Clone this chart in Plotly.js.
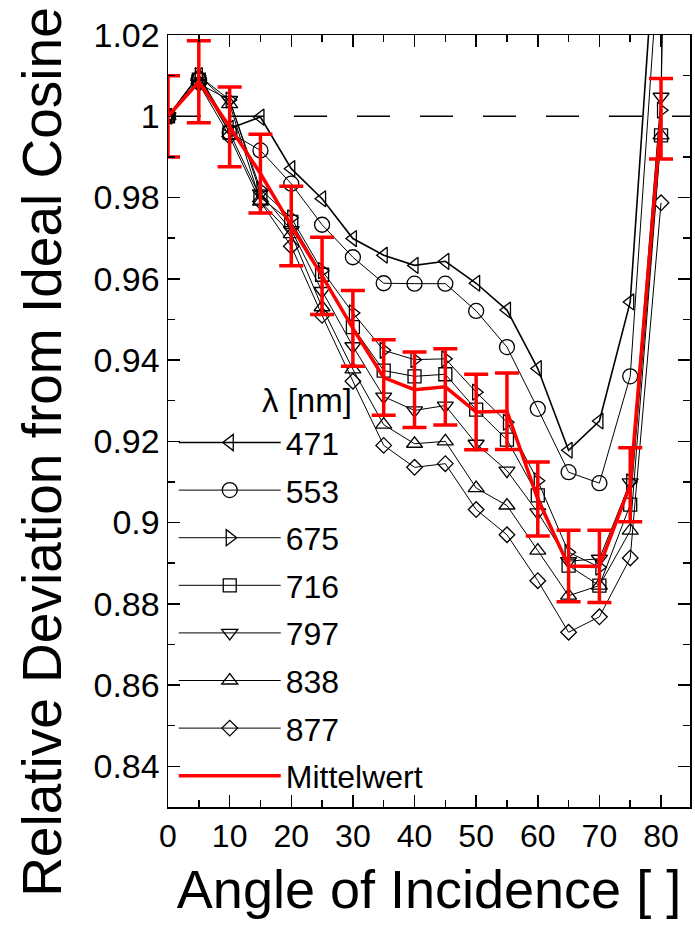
<!DOCTYPE html>
<html>
<head>
<meta charset="utf-8">
<script src="https://cdn.plot.ly/plotly-3.0.1.min.js"></script>
<style>html,body{margin:0;padding:0;background:#fff;}#chart{width:695px;height:930px;}</style>
</head>
<body>
<div id="chart"></div>
<script>
// Angles of incidence (degrees)
const angles = [0, 5, 10, 15, 20, 25, 30, 35, 40, 45, 50, 55, 60, 65, 70, 75, 80];
const anglesExt = [0, 5, 10, 15, 20, 25, 30, 35, 40, 45, 50, 55, 60, 65, 70, 75, 80, 85];

// Wavelength series (relative deviation)
const s471 = [1.000, 1.010, 0.997, 0.9998, 0.9871, 0.9797, 0.9699, 0.9658, 0.9633, 0.9643, 0.9589, 0.9523, 0.9379, 0.9178, 0.9250, 0.9543, 1.065];
const s553 = [1.000, 1.009, 0.996, 0.9916, 0.9834, 0.9733, 0.9653, 0.9589, 0.9588, 0.9588, 0.9521, 0.9432, 0.9280, 0.9124, 0.9097, 0.9360, 1.047];
const s675 = [1.000, 1.010, 1.004, 0.982, 0.975, 0.962, 0.9516, 0.9424, 0.9401, 0.9403, 0.9321, 0.9247, 0.9103, 0.8927, 0.8890, 0.9100, 1.0015, 1.5];
const s716 = [1.000, 1.009, 0.996, 0.980, 0.974, 0.961, 0.9481, 0.9374, 0.9360, 0.9365, 0.9278, 0.9204, 0.9067, 0.8894, 0.8845, 0.9044, 0.9953];
const s797 = [1.000, 1.008, 1.004, 0.981, 0.972, 0.957, 0.9434, 0.9310, 0.9276, 0.9288, 0.9194, 0.9128, 0.9025, 0.8905, 0.8911, 0.9099, 1.0048, 1.5];
const s838 = [1.000, 1.010, 1.003, 0.979, 0.971, 0.953, 0.9377, 0.9241, 0.9194, 0.9200, 0.9085, 0.9042, 0.8931, 0.8820, 0.8845, 0.8980, 0.9953];
const s877 = [1.000, 1.008, 0.995, 0.979, 0.968, 0.951, 0.9348, 0.9190, 0.9136, 0.9145, 0.9032, 0.8970, 0.8857, 0.8730, 0.8768, 0.8913, 0.9787];

// Mean (Mittelwert) and its error
const meanVals = [1.000, 1.0085, 0.9974, 0.9859, 0.9730, 0.9607, 0.9478, 0.9357, 0.9327, 0.9334, 0.9272, 0.9274, 0.9058, 0.8893, 0.8892, 0.9093, 0.9994];
const meanErr = [0.0100, 0.0101, 0.0098, 0.0097, 0.0098, 0.0095, 0.0093, 0.0093, 0.0093, 0.0094, 0.0093, 0.0094, 0.0091, 0.0088, 0.0089, 0.0091, 0.0099];

const seriesNames = ['471', '553', '675', '716', '797', '838', '877'];

// Tick labels
const xTickVals = [0, 10, 20, 30, 40, 50, 60, 70, 80];
const yTickVals = [0.84, 0.86, 0.88, 0.90, 0.92, 0.94, 0.96, 0.98, 1.00, 1.02];
const yTickText = ['0.84', '0.86', '0.88', '0.9', '0.92', '0.94', '0.96', '0.98', '1', '1.02'];

const FONT = 'Liberation Sans, Arial, Helvetica, sans-serif';

function series(name, xs, ys, symbol, size, lw) {
  return {
    x: xs, y: ys, name: name, type: 'scatter', mode: 'lines+markers',
    legendgroup: 'g' + name,
    line: {color: '#000', width: lw},
    marker: {symbol: symbol, size: size, color: '#000', line: {color: '#000', width: 1.3}},
    cliponaxis: true
  };
}

const traces = [
  series(seriesNames[0], angles, s471, 'triangle-left-open', 14, 1.6),
  series(seriesNames[1], angles, s553, 'circle-open', 15, 1.0),
  series(seriesNames[2], anglesExt, s675, 'triangle-right-open', 14, 1.0),
  series(seriesNames[3], angles, s716, 'square-open', 13, 1.0),
  series(seriesNames[4], anglesExt, s797, 'triangle-down-open', 14, 1.0),
  series(seriesNames[5], angles, s838, 'triangle-up-open', 14, 1.0),
  series(seriesNames[6], angles, s877, 'diamond-open', 12, 1.0),
  {
    x: angles, y: meanVals, name: 'Mittelwert', type: 'scatter', mode: 'lines',
    legendgroup: 'gmean',
    line: {color: '#ff0000', width: 3.5},
    error_y: {type: 'data', array: meanErr, visible: true, color: '#ff0000', thickness: 3.5, width: 12}
  }
];

const layout = {
  width: 695, height: 930,
  margin: {l: 168, r: 5, t: 35, b: 123, pad: 0},
  paper_bgcolor: '#fff', plot_bgcolor: '#fff',
  font: {family: FONT, color: '#000', size: 32},
  showlegend: true,
  legend: {
    x: 0.011, y: 0.5075, xanchor: 'left', yanchor: 'top',
    bgcolor: 'rgba(0,0,0,0)', borderwidth: 0,
    font: {family: FONT, size: 32, color: '#000'},
    itemwidth: 102, tracegroupgap: 3, traceorder: 'grouped'
  },
  xaxis: {
    range: [0, 84.7],
    tickmode: 'array', tickvals: xTickVals,
    ticks: 'inside', ticklen: 12, tickwidth: 1.5, tickcolor: '#000',
    minor: {dtick: 5, tick0: 0, ticks: 'inside', ticklen: 7, tickwidth: 1.5, tickcolor: '#000'},
    showline: true, linecolor: '#000', linewidth: 1.5, mirror: 'allticks',
    showgrid: false, zeroline: false,
    tickfont: {family: FONT, size: 32, color: '#000'},
    title: {text: 'Angle of Incidence [ ]', standoff: 17, font: {family: FONT, size: 54, color: '#000'}}
  },
  yaxis: {
    range: [0.83, 1.02],
    tickmode: 'array', tickvals: yTickVals, ticktext: yTickText,
    ticks: 'inside', ticklen: 12, tickwidth: 1.5, tickcolor: '#000',
    minor: {dtick: 0.01, tick0: 0, ticks: 'inside', ticklen: 7, tickwidth: 1.5, tickcolor: '#000'},
    showline: true, linecolor: '#000', linewidth: 1.5, mirror: 'allticks',
    showgrid: false, zeroline: false,
    tickfont: {family: FONT, size: 34, color: '#000'}
  },
  shapes: [
    {type: 'line', xref: 'paper', yref: 'y', x0: 0, x1: 1, y0: 1, y1: 1, layer: 'below',
     line: {color: '#000', width: 1.3, dash: '33px,30px'}}
  ],
  annotations: [
    {xref: 'paper', yref: 'paper', x: 0.176, y: 0.527, xanchor: 'left', yanchor: 'middle',
     text: 'λ [nm]', showarrow: false, font: {family: FONT, size: 33, color: '#000'}},
    {xref: 'paper', yref: 'paper', x: -0.2414, y: 0.46, xanchor: 'center', yanchor: 'middle',
     textangle: -90, text: 'Relative Deviation from Ideal Cosine', showarrow: false,
     font: {family: FONT, size: 55, color: '#000'}}
  ]
};

Plotly.newPlot('chart', traces, layout, {displayModeBar: false, staticPlot: true});
</script>
</body>
</html>
